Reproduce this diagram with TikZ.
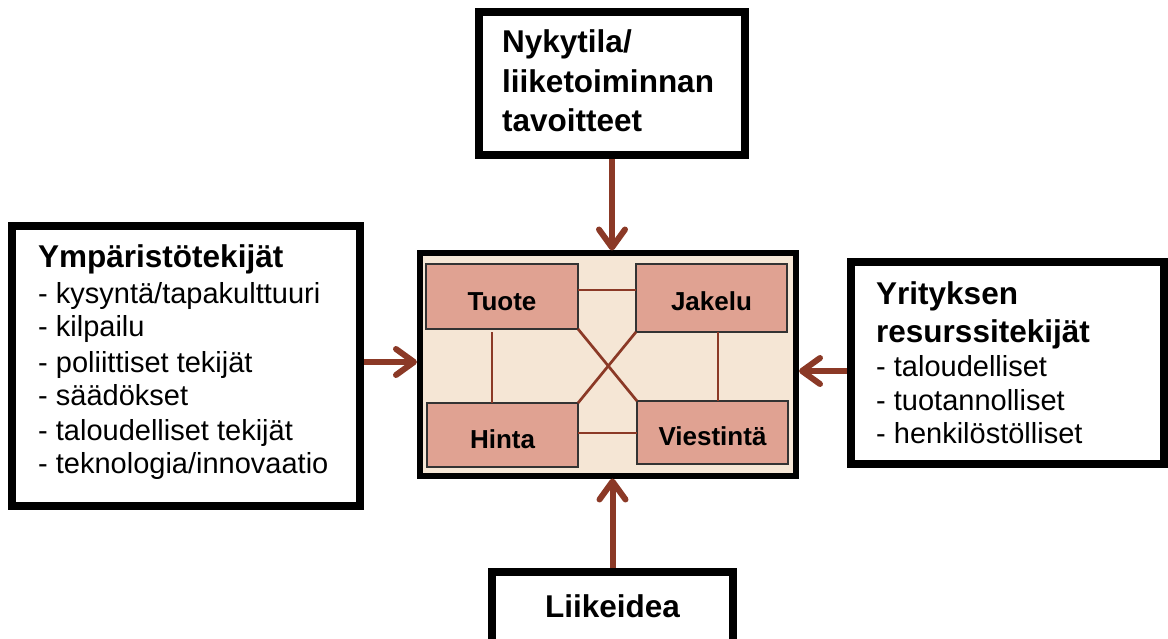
\documentclass[tikz,border=0pt]{standalone}
\usepackage{fontspec}
\setmainfont{Liberation Sans}
\usetikzlibrary{arrows.meta}
\definecolor{brn}{HTML}{8B3926}
\definecolor{salmon}{HTML}{E0A292}
\definecolor{beige}{HTML}{F5E6D5}
\begin{document}
\begin{tikzpicture}[x=1pt,y=-1pt,
  outerbox/.style={draw=black, line width=8pt, fill=white, inner sep=0pt},
  centerbox/.style={draw=black, line width=6pt, fill=beige, inner sep=0pt},
  fieldbox/.style={draw=black!80, line width=1.5pt, fill=salmon, inner sep=0pt, outer sep=0pt},
  head/.style={font=\fontsize{31.5}{38}\selectfont\bfseries, anchor=base west, inner sep=0pt},
  item/.style={font=\fontsize{29}{34}\selectfont, anchor=base west, inner sep=0pt},
  field/.style={font=\fontsize{26}{30}\selectfont\bfseries, anchor=base, inner sep=0pt},
  flow/.style={draw=brn, line width=6pt, -{Straight Barb[length=18pt,width=26pt,round]}},
  link/.style={draw=brn, line width=2.7pt}]
\useasboundingbox (0,0) rectangle (1168,639);
\clip (0,0) rectangle (1168,639);

% outer boxes
\node[outerbox, minimum width=266pt, minimum height=142.5pt] (top) at (612,83.75) {};
\node[outerbox, minimum width=348.5pt, minimum height=280pt] (left) at (185.75,366) {};
\node[outerbox, minimum width=313pt, minimum height=202pt] (right) at (1007.5,363) {};
\node[outerbox, minimum width=241pt, minimum height=88pt] (bottom) at (612.5,616) {};
\node[centerbox, minimum width=376pt, minimum height=222pt] (center) at (608,364.5) {};

% texts
\node[head] (t1) at (502,53) {Nykytila/};
\node[head] (t2) at (502,93) {liiketoiminnan};
\node[head] (t3) at (502,132) {tavoitteet};

\node[head] (l0) at (38,268) {Ympäristötekijät};
\node[item] (l1) at (38,303) {- kysyntä/tapakulttuuri};
\node[item] (l2) at (38,337) {- kilpailu};
\node[item] (l3) at (38,372) {- poliittiset tekijät};
\node[item] (l4) at (38,405) {- säädökset};
\node[item] (l5) at (38,440) {- taloudelliset tekijät};
\node[item] (l6) at (38,473) {- teknologia/innovaatio};

\node[head] (r0) at (876,305) {Yrityksen};
\node[head] (r1) at (876,342) {resurssitekijät};
\node[item] (r2) at (876,376) {- taloudelliset};
\node[item] (r3) at (876,410) {- tuotannolliset};
\node[item] (r4) at (876,443) {- henkilöstölliset};

\node[head, anchor=base] (b1) at (612.5,617) {Liikeidea};

% inner fields
\node[fieldbox, minimum width=152pt, minimum height=65pt] (tuote) at (502,296.5) {};
\node[fieldbox, minimum width=151pt, minimum height=68pt] (jakelu) at (711.5,298) {};
\node[fieldbox, minimum width=151pt, minimum height=64pt] (hinta) at (502.5,435) {};
\node[fieldbox, minimum width=151pt, minimum height=63pt] (viestinta) at (712.5,432.5) {};
\node[field] (tuoteT) at ([yshift=-14.5pt]tuote.center) {Tuote};
\node[field] (jakeluT) at ([yshift=-13pt]jakelu.center) {Jakelu};
\node[field] (hintaT) at ([yshift=-13pt]hinta.center) {Hinta};
\node[field] (viestintaT) at ([yshift=-12.5pt]viestinta.center) {Viestintä};

% links
\coordinate (tj) at ([yshift=6.5pt]tuote.east);
\coordinate (hv) at ([yshift=2pt]hinta.east);
\coordinate (th) at ([xshift=-10pt,yshift=-3pt]tuote.south);
\coordinate (jv) at ([xshift=6.5pt]jakelu.south);
\draw[link] (tj) -- (tj -| jakelu.west);
\draw[link] (hv) -- (hv -| viestinta.west);
\draw[link] (th) -- (th |- hinta.north);
\draw[link] (jv) -- (jv |- viestinta.north);
\draw[link] (tuote.south east) -- (viestinta.north west);
\draw[link] (jakelu.south west) -- (hinta.north east);

% arrows
\coordinate (la) at ([yshift=4pt]left.east);
\coordinate (ra) at ([yshift=-8pt]right.west);
\draw[flow] (top.south) -- (top.south |- center.north);
\draw[flow] (bottom.north) -- (bottom.north |- center.south);
\draw[flow] (la) -- (la -| center.west);
\draw[flow] (ra) -- (ra -| center.east);
\end{tikzpicture}
\end{document}
